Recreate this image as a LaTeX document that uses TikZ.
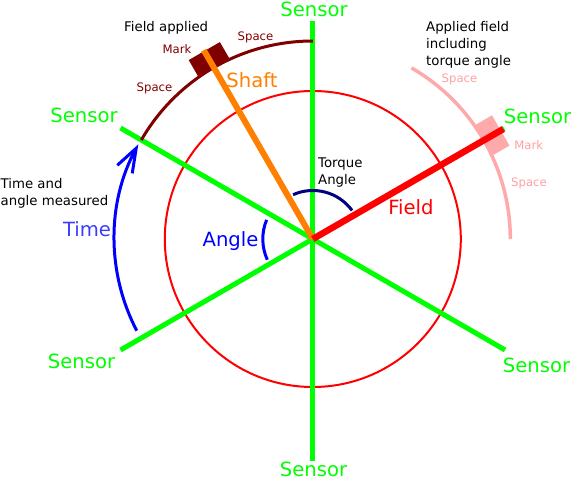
\documentclass[tikz,border=0pt]{standalone}
\usepackage{fontspec}
\setmainfont{DejaVu Sans}
\usetikzlibrary{arrows.meta}
\definecolor{sgreen}{RGB}{0,255,0}
\definecolor{sred}{RGB}{255,0,0}
\definecolor{sorange}{RGB}{255,128,0}
\definecolor{sdark}{RGB}{128,0,0}
\definecolor{spink}{RGB}{255,170,170}
\definecolor{spinktext}{RGB}{255,160,160}
\definecolor{sblue}{RGB}{0,0,255}
\definecolor{stime}{RGB}{60,60,255}
\definecolor{snavy}{RGB}{0,0,128}
\tikzset{
  sensorline/.style={draw=sgreen, line width=5pt},
  biglabel/.style={inner sep=0pt, anchor=base, font=\fontsize{19.6}{23}\selectfont},
  sensorlabel/.style={biglabel, text=sgreen},
  smalllabel/.style={inner sep=0pt, anchor=base, font=\fontsize{11.7}{14}\selectfont},
  note/.style={inner sep=0pt, anchor=north west, align=left, text=black, font=\fontsize{13.3}{16.6}\selectfont},
  anglearc/.style={line width=3pt},
}
\begin{document}
\begin{tikzpicture}[x=1pt,y=1pt]
\useasboundingbox (-312.8,-241) rectangle (259.2,239);
\coordinate (C) at (0,0);
% red circle
\draw[sred, line width=2pt] (C) circle[radius=148];
% sensor lines
\coordinate (sT) at (0,218.3);
\coordinate (sB) at (0,-221.5);
\coordinate (sUL) at (150:222);
\coordinate (sLL) at (210:222);
\coordinate (sUR) at (30:221);
\coordinate (sLR) at (330:222);
\draw[sensorline] (sT) -- (sB);
\draw[sensorline] (sUL) -- (sLR);
\draw[sensorline] (sLL) -- (sUR);
% dark red arc with mark
\draw[sdark, line width=3pt] (90:198) arc[start angle=90, end angle=150, radius=198];
\begin{scope}[rotate=120]
  \fill[sdark] (197.5,-18) rectangle (217,18);
\end{scope}
% shaft
\coordinate (shaftend) at (120:218);
\draw[sorange, line width=6pt] (C) -- (shaftend);
% pink arc with mark
\draw[spink, line width=3.5pt] (0:197.5) arc[start angle=0, end angle=60, radius=197.5];
\begin{scope}[rotate=30]
  \fill[spink] (198,-17.5) rectangle (217,17.5);
\end{scope}
% field
\coordinate (fieldend) at (30:220);
\draw[sred, line width=6.5pt] (C) -- (fieldend);
% angle arcs
\draw[sblue, anglearc] (157.5:50) arc[start angle=157.5, end angle=204.5, radius=50];
\draw[snavy, anglearc] (36:48.5) arc[start angle=36, end angle=114, radius=48.5];
% time arrow
\draw[sblue, line width=3pt, -{Straight Barb[length=24pt,width=17pt]}] (207.5:198.5) arc[start angle=207.5, end angle=151.5, radius=198.5];
% sensor labels
\node[sensorlabel] (lT) at (1.2,222.7) {Sensor};
\node[sensorlabel] (lB) at (0.7,-237.5) {Sensor};
\node[sensorlabel] (lUL) at (-228.8,116.7) {Sensor};
\node[sensorlabel] (lLL) at (-231.3,-129.3) {Sensor};
\node[sensorlabel] (lUR) at (224.7,115.2) {Sensor};
\node[sensorlabel] (lLR) at (223.7,-133.3) {Sensor};
% main labels
\node[biglabel, text=sorange] (lshaft) at (-60.8,151.7) {Shaft};
\node[biglabel, text=sred] (lfield) at (98.2,24.5) {Field};
\node[biglabel, text=stime] (ltime) at (-225.8,2.3) {Time};
\node[biglabel, text=sblue] (langle) at (-82.3,-7) {Angle};
% small labels
\node[smalllabel, text=sdark] (dmark) at (-135.8,185.5) {Mark};
\node[smalllabel, text=sdark] (dspace1) at (-57.3,199) {Space};
\node[smalllabel, text=sdark] (dspace2) at (-158.3,147.3) {Space};
\node[smalllabel, text=spinktext] (pspace1) at (146.7,156.3) {Space};
\node[smalllabel, text=spinktext] (pmark) at (215.9,89.6) {Mark};
\node[smalllabel, text=spinktext] (pspace2) at (216.2,53) {Space};
% notes
\node[note] (nfield) at (-188.8,217.5) {Field applied};
\node[note] (napplied) at (113.2,217.5) {Applied field\\including\\torque angle};
\node[note] (ntorque) at (5.2,81) {Torque\\Angle};
\node[note, font=\fontsize{13.3}{17.5}\selectfont] (ntime) at (-312.3,61) {Time and\\angle measured};
\end{tikzpicture}
\end{document}
